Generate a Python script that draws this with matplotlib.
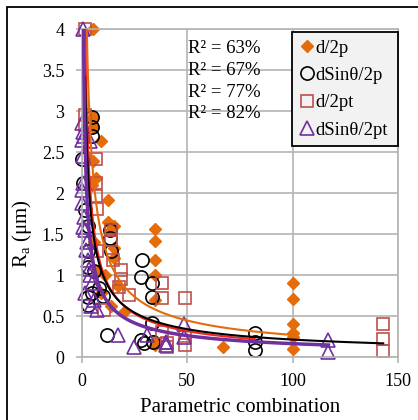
import matplotlib
matplotlib.use("Agg")
import matplotlib.pyplot as plt
import numpy as np
from matplotlib.patches import Rectangle

plt.rcParams['font.family'] = ['Liberation Serif', 'DejaVu Serif']
plt.rcParams['mathtext.fontset'] = 'custom'
plt.rcParams['mathtext.rm'] = 'Liberation Serif'
plt.rcParams['mathtext.it'] = 'Liberation Serif:italic'

# ---- data ----
d2p_x = [5.5, 5.5, 5.5, 9, 5.5, 7, 5, 12.4, 12.4, 15.5, 14, 5.8, 15.5, 15.5, 11, 7.3, 17, 9, 14, 20,
         34.6, 34.6, 34.6, 34.6, 34.6, 34.6, 34.6, 67, 100, 100, 100, 100, 100, 100]
d2p_y = [4.0, 2.93, 2.81, 2.63, 2.39, 2.19, 2.1, 1.92, 1.65, 1.6, 1.55, 1.4, 1.33, 1.21, 1.0, 1.05, 0.87, 0.78, 0.63, 0.55,
         1.56, 1.42, 1.19, 1.0, 0.7, 0.2, 0.15, 0.13, 0.9, 0.71, 0.4, 0.3, 0.25, 0.1]

ds2p_x = [0, 0.6, 4.7, 4.7, 4.7, 1.4, 3, 3, 3, 6, 3.1, 3.1, 4.7, 8, 10, 13.2, 13.2, 14, 11.8,
          28.8, 28, 33.5, 33.5, 33.5, 28, 29.5, 34, 82, 82, 82]
ds2p_y = [2.41, 2.12, 2.93, 2.81, 2.7, 1.8, 1.6, 1.3, 1.1, 1.05, 0.74, 0.64, 0.78, 0.85, 0.75, 1.55, 1.45, 1.3, 0.27,
          1.19, 0.98, 0.9, 0.73, 0.42, 0.21, 0.17, 0.19, 0.3, 0.19, 0.09]

d2pt_x = [1.6, 1.6, 1.6, 6.8, 6.8, 6.8, 7.2, 7.2, 14, 14, 14.7, 18.6, 18.6, 17.7, 22.6, 10.8,
          38.2, 38.2, 49.2, 38.2, 40.6, 40.6, 49, 49, 143, 143, 143]
d2pt_y = [4.0, 2.95, 2.83, 2.42, 2.12, 1.96, 1.81, 1.3, 1.55, 1.43, 1.18, 1.06, 0.96, 0.86, 0.76, 0.58,
          0.9, 0.72, 0.72, 0.31, 0.17, 0.12, 0.26, 0.15, 0.4, 0.22, 0.08]

ds2pt_x = [0.8, 0, 0.5, 1, 0, 3.9, 0.6, 0.6, 0.3, 0, 1, 0.6, 1.5, 2.2, 3, 3.5, 4, 1.4, 4.5, 7.3, 6, 5, 2.5,
           17, 25, 31.2, 39.8, 39.8, 48.4, 48.4, 117, 117]
ds2pt_y = [4.0, 2.85, 2.75, 2.7, 2.65, 2.63, 2.45, 2.12, 2.04, 1.88, 1.71, 1.59, 1.55, 1.31, 1.19, 1.08, 1.0, 0.78, 0.62, 0.58, 0.7, 0.9, 1.4,
           0.27, 0.13, 0.27, 0.19, 0.15, 0.41, 0.25, 0.21, 0.07]

# power trend lines y = a * x^b
trend_a = [7.5, 5.7, 4.68, 3.57]
trend_b = [-0.72, -0.737, -0.668, -0.666]
trend_xmin = [1.0, 1.0, 1.6, 0.5]
trend_xmax = [100, 82, 143, 117]
trend_colors = ['#E46C0A', '#F0281E', '#000000', '#7030A0']
trend_lw = [1.5, 1.5, 1.5, 2.5]

r2_labels = ['R² = 63%', 'R² = 67%', 'R² = 77%', 'R² = 82%']
series_labels = ['d/2p', 'dSinθ/2p', 'd/2pt', 'dSinθ/2pt']

# ---- figure ----
fig = plt.figure(figsize=(4.18, 4.20), dpi=100)
ax = fig.add_axes([81.7/418, 1-357.3/420, (398-81.7)/418, (357.3-29)/420])

gray = '#b4b4b4'
ax.plot(d2p_x, d2p_y, 'D', ms=6.5, mfc='#E46C0A', mec='#E46C0A', ls='none', clip_on=False, zorder=2, label=series_labels[0])
ax.plot(ds2p_x, ds2p_y, 'o', ms=9.5, mfc='none', mec='black', mew=1.2, ls='none', clip_on=False, zorder=2, label=series_labels[1])
ax.plot(d2pt_x, d2pt_y, 's', ms=9, mfc='none', mec='#C0504D', mew=1.2, ls='none', clip_on=False, zorder=2, label=series_labels[2])
ax.plot(ds2pt_x, ds2pt_y, '^', ms=10, mfc='none', mec='#7030A0', mew=1.2, ls='none', clip_on=False, zorder=2, label=series_labels[3])

for a, b, x0, x1, c, lw in zip(trend_a, trend_b, trend_xmin, trend_xmax, trend_colors, trend_lw):
    xs = np.linspace(x0, x1, 600)
    ax.plot(xs, a * xs ** b, color=c, lw=lw, zorder=3)

ax.set_xlim(0, 150)
ax.set_ylim(0, 4)
ax.set_xticks([0, 50, 100, 150])
ax.set_yticks(np.arange(0, 4.01, 0.5))
ax.set_yticklabels(['0', '0.5', '1', '1.5', '2', '2.5', '3', '3.5', '4'])
ax.grid(True, color=gray, lw=1.2, zorder=0)
ax.set_axisbelow(True)
for s in ax.spines.values():
    s.set_color(gray)
    s.set_linewidth(1.2)
ax.tick_params(axis='both', colors=gray, labelcolor='black', labelsize=13, length=4, width=1.2)
ax.tick_params(axis='y', pad=8.5)
ax.tick_params(axis='x', pad=7)

ax.set_xlabel('Parametric combination', fontsize=15)
ax.xaxis.set_label_coords(0.5, -0.125)
ax.set_ylabel(r'R$_\mathregular{a}$ (μm)', fontsize=15)
ax.yaxis.set_label_coords(-0.15, 0.378)

for lab, yy in zip(r2_labels, [0.942, 0.875, 0.808, 0.744]):
    ax.text(0.336, yy, lab, transform=ax.transAxes, fontsize=13.5, va='center', ha='left')

leg = ax.legend(loc='upper left', bbox_to_anchor=(0.665, 0.65, 0.335, 0.341), mode='expand',
                borderaxespad=0, fontsize=13.5,
                handlelength=0.75, handletextpad=0.12, borderpad=0.4, labelspacing=0.55,
                fancybox=False, framealpha=1, facecolor='#f2f2f2', edgecolor='black')
leg.get_frame().set_linewidth(1.3)
leg.set_zorder(5)

fig.add_artist(Rectangle((7/418, -0.05), 1.2, 1 - 7/420 + 0.05, transform=fig.transFigure,
                         fill=False, ec='black', lw=1.3, clip_on=False))

fig.savefig('out.png', dpi=100)
